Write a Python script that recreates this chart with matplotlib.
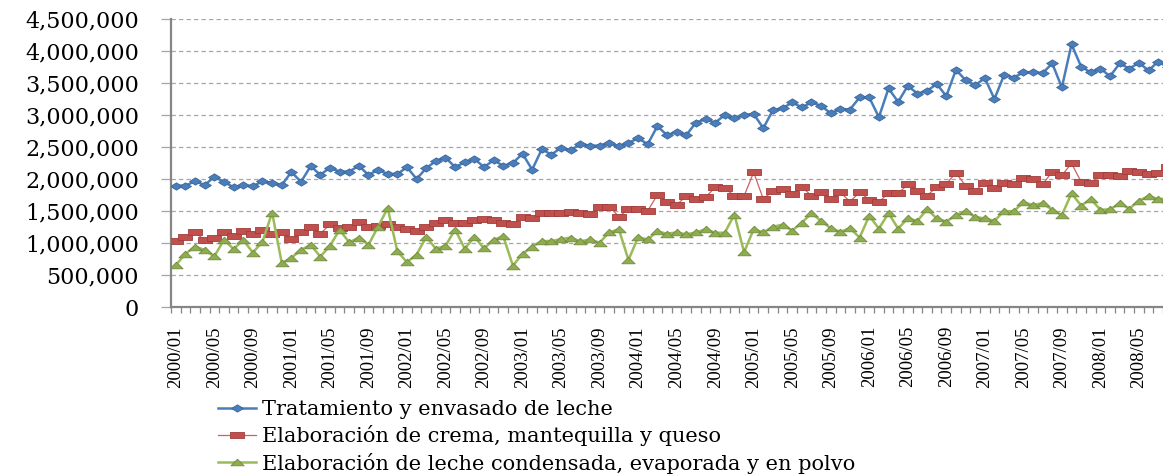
import numpy as np
import matplotlib
matplotlib.use("Agg")
import matplotlib.pyplot as plt
from matplotlib.path import Path
from matplotlib.ticker import FixedLocator, FuncFormatter

# ---------------- data ----------------
months = [f"{y}/{m:02d}" for y in range(2000, 2009) for m in range(1, 13)][:104]
tick_labels = months[::4]

series_names = [
    "Tratamiento y envasado de leche",
    "Elaboración de crema, mantequilla y queso",
    "Elaboración de leche condensada, evaporada y en polvo",
]

tratamiento = [
    1900000, 1900000, 1970000, 1910000, 2040000, 1960000, 1875000, 1910000, 1890000, 1970000,
    1945000, 1910000, 2115000, 1960000, 2205000, 2070000, 2180000, 2120000, 2120000, 2210000,
    2070000, 2145000, 2085000, 2080000, 2190000, 2005000, 2175000, 2285000, 2340000, 2190000,
    2265000, 2320000, 2190000, 2300000, 2210000, 2255000, 2400000, 2150000, 2470000, 2385000,
    2495000, 2450000, 2555000, 2525000, 2525000, 2565000, 2515000, 2570000, 2640000, 2550000,
    2830000, 2690000, 2740000, 2690000, 2885000, 2940000, 2885000, 3005000, 2950000, 3005000,
    3020000, 2800000, 3080000, 3110000, 3200000, 3125000, 3200000, 3150000, 3030000, 3100000,
    3090000, 3280000, 3280000, 2970000, 3420000, 3210000, 3460000, 3340000, 3380000, 3490000,
    3300000, 3710000, 3550000, 3470000, 3580000, 3255000, 3630000, 3590000, 3670000, 3670000,
    3660000, 3810000, 3435000, 4110000, 3760000, 3670000, 3730000, 3610000, 3810000, 3730000,
    3820000, 3700000, 3840000, 3750000,
]

crema = [
    1030000, 1095000, 1170000, 1050000, 1090000, 1170000, 1120000, 1185000, 1140000, 1205000,
    1150000, 1170000, 1060000, 1170000, 1250000, 1150000, 1295000, 1245000, 1255000, 1340000,
    1250000, 1270000, 1295000, 1250000, 1220000, 1200000, 1250000, 1310000, 1360000, 1310000,
    1310000, 1360000, 1385000, 1360000, 1310000, 1300000, 1415000, 1390000, 1475000, 1475000,
    1475000, 1485000, 1475000, 1455000, 1560000, 1575000, 1415000, 1535000, 1535000, 1510000,
    1755000, 1645000, 1600000, 1740000, 1700000, 1720000, 1875000, 1860000, 1740000, 1740000,
    2110000, 1690000, 1820000, 1850000, 1770000, 1885000, 1740000, 1795000, 1690000, 1795000,
    1650000, 1800000, 1680000, 1640000, 1790000, 1780000, 1920000, 1820000, 1745000, 1875000,
    1930000, 2100000, 1900000, 1820000, 1950000, 1860000, 1950000, 1930000, 2015000, 2000000,
    1920000, 2120000, 2060000, 2250000, 1960000, 1945000, 2070000, 2060000, 2050000, 2135000,
    2110000, 2080000, 2100000, 2200000,
]

condensada = [
    660000, 835000, 950000, 895000, 795000, 1055000, 910000, 1050000, 855000, 1025000,
    1480000, 690000, 775000, 895000, 980000, 790000, 960000, 1210000, 1015000, 1090000,
    975000, 1260000, 1550000, 875000, 705000, 825000, 1100000, 915000, 960000, 1215000,
    915000, 1100000, 920000, 1055000, 1110000, 650000, 835000, 950000, 1035000, 1035000,
    1065000, 1090000, 1030000, 1060000, 1010000, 1170000, 1220000, 740000, 1095000, 1060000,
    1185000, 1150000, 1170000, 1140000, 1170000, 1220000, 1165000, 1165000, 1450000, 860000,
    1220000, 1170000, 1260000, 1290000, 1200000, 1320000, 1470000, 1350000, 1235000, 1180000,
    1235000, 1090000, 1430000, 1230000, 1470000, 1230000, 1390000, 1350000, 1530000, 1390000,
    1340000, 1440000, 1505000, 1410000, 1390000, 1350000, 1505000, 1500000, 1640000, 1600000,
    1625000, 1525000, 1440000, 1780000, 1590000, 1690000, 1525000, 1530000, 1625000, 1540000,
    1665000, 1740000, 1690000, 1700000,
]

y_ticks = [0, 500000, 1000000, 1500000, 2000000, 2500000, 3000000, 3500000, 4000000, 4500000]

# ---------------- markers (wide shapes as in the stretched original) ----------------
diamond = Path([(-1, 0), (0, 0.62), (1, 0), (0, -0.62), (-1, 0)],
               [Path.MOVETO, Path.LINETO, Path.LINETO, Path.LINETO, Path.CLOSEPOLY])
rect = Path([(-1, -0.5), (1, -0.5), (1, 0.5), (-1, 0.5), (-1, -0.5)],
            [Path.MOVETO, Path.LINETO, Path.LINETO, Path.LINETO, Path.CLOSEPOLY])
tri = Path([(-1, -0.5), (1, -0.5), (0, 0.5), (-1, -0.5)],
           [Path.MOVETO, Path.LINETO, Path.LINETO, Path.CLOSEPOLY])

# ---------------- figure ----------------
W, H = 1163, 475
fig = plt.figure(figsize=(W / 100, H / 100), dpi=100)
ax_left, ax_bottom, ax_top = 171, 307.3, 19.3
ax = fig.add_axes([ax_left / W, (H - ax_bottom) / H, (W - ax_left) / W, (ax_bottom - ax_top) / H])

x = np.arange(len(months))

ax.plot(x, tratamiento, color="#4A7EBB", lw=1.8, marker=diamond, markersize=8.5,
        markerfacecolor="#4A7EBB", markeredgecolor="#3A659A", markeredgewidth=0.6,
        label=series_names[0], zorder=3)
ax.plot(x, crema, color="#D0605D", lw=0.9, marker=rect, markersize=10,
        markerfacecolor="#C0504D", markeredgecolor="#A03C3A", markeredgewidth=0.6,
        label=series_names[1], zorder=4)
ax.plot(x, condensada, color="#9BBB59", lw=1.8, marker=tri, markersize=9.5,
        markerfacecolor="#8EAD4E", markeredgecolor="#71893F", markeredgewidth=0.6,
        label=series_names[2], zorder=5)

ax.set_xlim(-0.5, len(months) - 1.5)
ax.set_ylim(0, 4500000)

# spines
for s in ("top", "right"):
    ax.spines[s].set_visible(False)
for s in ("left", "bottom"):
    ax.spines[s].set_color("#868686")
    ax.spines[s].set_linewidth(1.6)

# grid
ax.set_yticks(y_ticks)
ax.yaxis.grid(True, color="#A6A6A6", linestyle=(0, (3.5, 2.5)), linewidth=0.9)
ax.set_axisbelow(True)
ax.yaxis.set_major_formatter(FuncFormatter(lambda v, p: f"{int(v):,}"))
ax.tick_params(axis="y", length=7, width=0.9, color="#A6A6A6", pad=16,
               labelsize=16, labelcolor="black")
for lab in ax.get_yticklabels():
    lab.set_family("DejaVu Serif")

# x ticks: labels at category centres, tick marks at category boundaries
ax.xaxis.set_major_locator(FixedLocator(x[::4]))
ax.set_xticklabels(tick_labels, rotation=90, family="Liberation Serif", fontsize=13.5)
ax.xaxis.set_minor_locator(FixedLocator(np.arange(-0.5, len(months), 1)))
ax.tick_params(axis="x", which="major", length=0, pad=13.5)
ax.tick_params(axis="x", which="minor", length=4, width=0.9, color="#868686")

# legend
leg = fig.legend(loc="upper left", bbox_to_anchor=(218 / W, 1 - 400 / H),
                 frameon=False, borderpad=0, borderaxespad=0,
                 handlelength=1.8, handletextpad=0.3, labelspacing=0.3,
                 prop={"family": "DejaVu Serif", "size": 15})

fig.savefig("out.png", dpi=100)
